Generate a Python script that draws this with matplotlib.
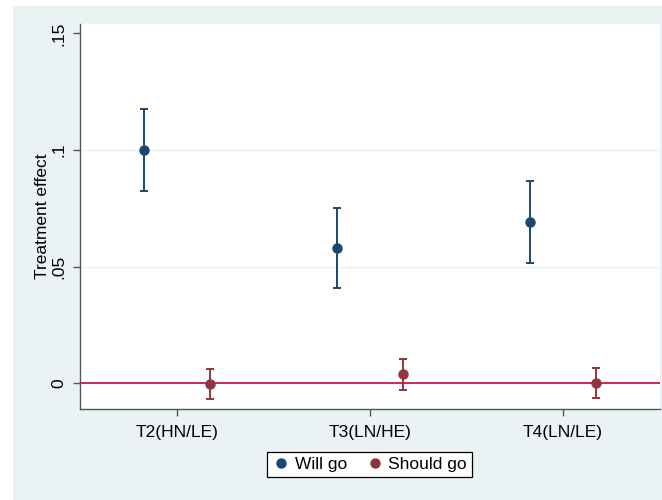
import matplotlib
matplotlib.use("Agg")
import matplotlib.pyplot as plt
from matplotlib.patches import Rectangle
from matplotlib.lines import Line2D
import numpy as np

plt.rcParams["font.family"] = ["Liberation Sans", "DejaVu Sans"]

categories = ["T2(HN/LE)", "T3(LN/HE)", "T4(LN/LE)"]
will_go = [0.1000, 0.0580, 0.0690]
will_lo = [0.0824, 0.0408, 0.0517]
will_hi = [0.1177, 0.0753, 0.0866]
should_go = [-0.0003, 0.0039, 0.0000]
should_lo = [-0.0067, -0.0029, -0.0064]
should_hi = [0.0063, 0.0104, 0.0066]
yticks = [0, 0.05, 0.1, 0.15]
yticklabels = ["0", ".05", ".1", ".15"]

navy = "#1a476f"
maroon = "#90353b"
bg = "#eaf2f3"

fig = plt.figure(figsize=(6.62, 5.0), dpi=100)
fig.patch.set_facecolor("white")
fig.patches.append(Rectangle((13/662, 0), 1 - 13/662, 1 - 6/500, transform=fig.transFigure,
                             facecolor=bg, edgecolor="none", zorder=-10))

ax = fig.add_axes([80/662, 1 - 408.7/500, (660-80)/662, (408.7-24)/500])
ax.set_facecolor("white")

x = np.arange(1, len(categories) + 1)
off = 0.171

ax.axhline(0, color="#c10534", lw=1.2, zorder=1)
for yv in yticks[1:3]:
    ax.axhline(yv, color=bg, lw=1.0, zorder=0)

w = np.array(will_go)
ax.errorbar(x - off, w, yerr=[w - np.array(will_lo), np.array(will_hi) - w], fmt="o",
            color=navy, ms=6.5, elinewidth=1.4, capsize=3.2, capthick=1.4, zorder=3, label="Will go")
s = np.array(should_go)
ax.errorbar(x + off, s, yerr=[s - np.array(should_lo), np.array(should_hi) - s], fmt="o",
            color=maroon, ms=6.5, elinewidth=1.4, capsize=3.2, capthick=1.4, zorder=3, label="Should go")

ax.set_xlim(0.497, 3.503)
ax.set_ylim(-0.0109, 0.154)
ax.set_xticks(x)
ax.set_xticklabels(categories, fontsize=12.5)
ax.set_yticks(yticks)
ax.set_yticklabels(yticklabels, fontsize=12.5, rotation=90, va="center")
ax.set_ylabel("Treatment effect", fontsize=12.5, labelpad=1)

for sp in ["top", "right"]:
    ax.spines[sp].set_visible(False)
for sp in ["left", "bottom"]:
    ax.spines[sp].set_color("#555555")
    ax.spines[sp].set_linewidth(1.0)
ax.tick_params(axis="both", colors="#555555", length=5, width=1, labelcolor="black")
ax.tick_params(axis="y", pad=5)
ax.tick_params(axis="x", pad=7)

handles = [Line2D([], [], marker="o", ls="none", color=navy, ms=6.5),
           Line2D([], [], marker="o", ls="none", color=maroon, ms=6.5)]
leg = fig.legend(handles, ["Will go", "Should go"], loc="center",
                 bbox_to_anchor=(369.5/662, 1 - 464.5/500), ncol=2, fontsize=12.5,
                 frameon=True, fancybox=False, edgecolor="black", framealpha=1,
                 handletextpad=0.3, columnspacing=1.1, borderpad=0.3, handlelength=1.0)
leg.get_frame().set_linewidth(0.9)

fig.savefig("out.png", dpi=100, facecolor=fig.get_facecolor())
